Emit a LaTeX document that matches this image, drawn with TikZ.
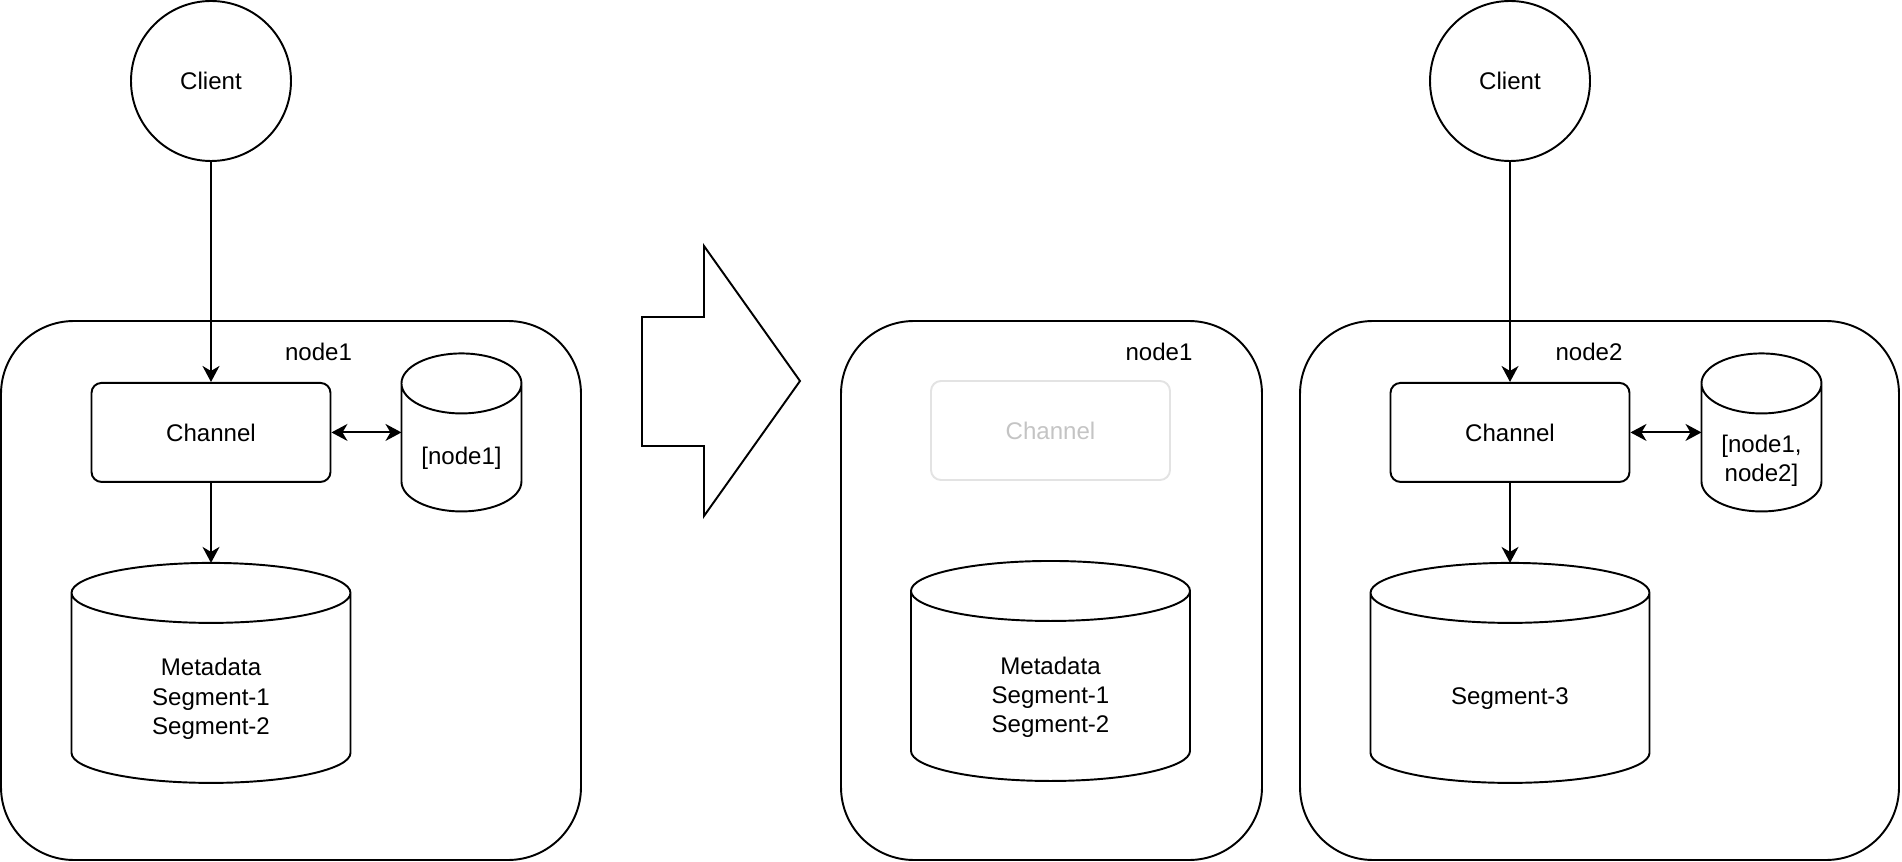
\documentclass[tikz,border=0pt]{standalone}
\usepackage{fontspec}
\setmainfont{Liberation Sans}
\usetikzlibrary{positioning,arrows.meta}
\definecolor{fadeline}{HTML}{E3E3E3}
\definecolor{fadetext}{HTML}{C4C4C4}

\begin{document}
\begin{tikzpicture}[
  font=\fontsize{13.7}{16.6}\selectfont,
  line width=1.1pt,
  client/.style={draw, circle, minimum size=3.2cm, inner sep=0pt},
  host/.style={draw, rounded corners=1.46cm, minimum height=10.78cm},
  chan/.style={draw, rounded corners=0.2cm, minimum width=4.78cm, minimum height=1.98cm},
  faded/.style={chan, draw=fadeline, text=fadetext},
  drum/.style 2 args={minimum width=#1, minimum height=#2, inner sep=0pt, outer sep=0pt,
    append after command={\pgfextra{\let\drumnode\tikzlastnode
      \draw ([yshift=-6mm]\drumnode.north west)
        -- ([yshift=6mm]\drumnode.south west)
        arc[start angle=180, end angle=360, x radius=#1/2, y radius=6mm]
        -- ([yshift=-6mm]\drumnode.north east)
        arc[start angle=0, end angle=180, x radius=#1/2, y radius=6mm]
        arc[start angle=180, end angle=360, x radius=#1/2, y radius=6mm];}}},
  ring/.style={drum={2.4cm}{3.16cm}},
  store/.style={drum={5.58cm}{4.4cm}},
  cyltext/.style={align=center, inner sep=0pt},
  arr/.style={-{Stealth[length=3.2mm, width=3.4mm, inset=1mm]}},
  sync/.style={{Stealth[length=3.2mm, width=3.4mm, inset=1mm]}-{Stealth[length=3.2mm, width=3.4mm, inset=1mm]}}
]
\useasboundingbox (0,0) rectangle (38.04,-17.24);
% ---------------- Before: node1 alone ----------------
\node[host, minimum width=11.6cm] (host1) at (5.82,-11.81) {};
\node (name1) at (6.37,-7.04) {node1};
\node[client] (cli1) at (4.22,-1.62) {Client};
\node[chan, below=4.4cm of cli1] (ch1) {Channel};
\node[ring, right=1.4cm of ch1] (ring1) {};
\node[cyltext] (ring1t) at ([yshift=-0.52cm]ring1.center) {[node1]};
\node[store, below=1.6cm of ch1] (st1) {};
\node[cyltext] (st1t) at ([yshift=-0.52cm]st1.center) {Metadata\\Segment-1\\Segment-2};
% ---------------- Transition ----------------
\draw (12.84,-6.34) -- (14.08,-6.34) -- (14.08,-4.92) -- (16.0,-7.62)
      -- (14.08,-10.32) -- (14.08,-8.92) -- (12.84,-8.92) -- cycle;
% ---------------- After: node1 ----------------
\node[host, minimum width=8.42cm] (host1b) at (21.03,-11.81) {};
\node (name1b) at (23.18,-7.04) {node1};
\node[faded] (ch1b) at (21.01,-8.61) {Channel};
\node[store, below=1.6cm of ch1b] (st1b) {};
\node[cyltext] (st1bt) at ([yshift=-0.52cm]st1b.center) {Metadata\\Segment-1\\Segment-2};
% ---------------- After: node2 ----------------
\node[host, minimum width=11.98cm] (host2) at (31.99,-11.81) {};
\node (name2) at (31.78,-7.04) {node2};
\node[client] (cli2) at (30.2,-1.62) {Client};
\node[chan, below=4.4cm of cli2] (ch2) {Channel};
\node[ring, right=1.42cm of ch2] (ring2) {};
\node[cyltext] (ring2t) at ([yshift=-0.56cm]ring2.center) {[node1,\\node2]};
\node[store, below=1.6cm of ch2] (st2) {};
\node[cyltext] (st2t) at ([yshift=-0.52cm]st2.center) {Segment-3};
% ---------------- Connectors ----------------
\foreach \n in {1,2}{
  \draw[arr] (cli\n) -- (ch\n);
  \draw[arr] (ch\n) -- (st\n);
  \draw[sync] (ch\n) -- (ring\n);
}
\end{tikzpicture}
\end{document}
